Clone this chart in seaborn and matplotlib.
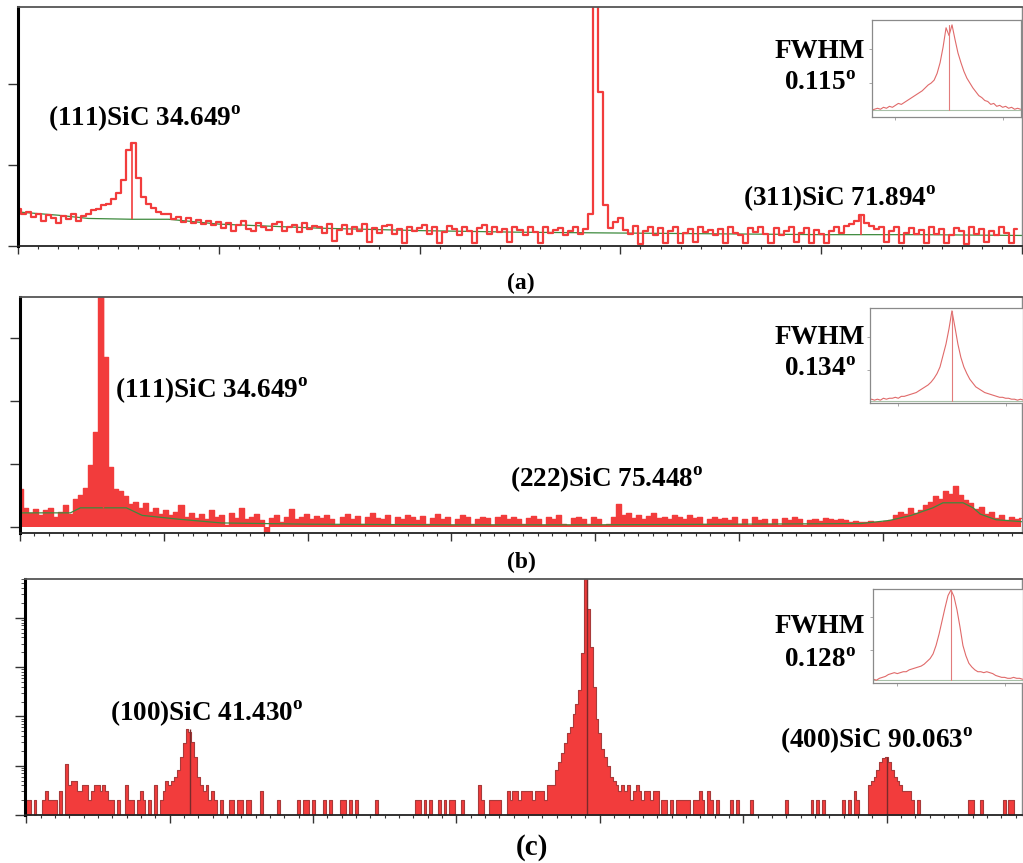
import numpy as np
import matplotlib
matplotlib.use("Agg")
import matplotlib.pyplot as plt
from matplotlib.ticker import MultipleLocator, NullFormatter, FixedLocator
import seaborn as sns

# -------------------------------------------------------------
# DATA
# -------------------------------------------------------------
# panel (a): counts on a 0.25 deg grid starting at 30 deg
a_start, a_step = 30.0, 0.25
a_counts = [
    46, 39, 42, 36, 40, 31, 38, 34, 28, 37,
    33, 40, 31, 37, 40, 44, 46, 50, 52, 58,
    66, 82, 118, 127, 84, 60, 52, 47, 42, 40,
    39, 33, 36, 30, 34, 29, 32, 27, 31, 26,
    30, 22, 28, 19, 26, 31, 21, 18, 29, 24,
    20, 27, 30, 18, 24, 26, 17, 28, 21, 25,
    24, 16, 27, 6, 20, 26, 15, 23, 19, 27,
    5, 22, 16, 25, 26, 15, 21, 4, 24, 19,
    22, 26, 15, 23, 4, 17, 25, 21, 14, 23,
    18, 4, 22, 26, 15, 24, 17, 21, 5, 24,
    20, 14, 23, 17, 4, 24, 16, 20, 22, 13,
    18, 24, 15, 21, 40, 330, 190, 50, 22, 30,
    34, 20, 15, 25, 3, 19, 24, 14, 22, 4,
    18, 23, 4, 16, 21, 5, 24, 17, 20, 14,
    21, 4, 23, 16, 14, 4, 22, 17, 23, 15,
    4, 22, 13, 19, 24, 5, 16, 22, 4, 20,
    15, 4, 18, 23, 16, 25, 27, 31, 38, 29,
    25, 21, 23, 5, 18, 24, 4, 16, 22, 15,
    20, 4, 23, 15, 21, 4, 14, 22, 18, 3,
    23, 15, 21, 5, 19, 14, 24, 16, 4, 21,
]
a_bg_theta = [30, 32, 33.5, 35.7, 37.5, 40, 45, 50, 55, 60, 65, 70, 75, 80]
a_bg_counts = [42, 38, 34, 33, 33, 27, 22, 19, 17, 16, 15, 14, 14, 13]
a_marks = [(35.7, 33, 127), (72.0, 14, 37)]

# panel (b): counts on a 0.35 deg grid starting at 30 deg
b_start, b_step = 30.0, 0.35
b_counts = [
    60, 30, 22, 28, 18, 26, 30, 16, 24, 34,
    20, 44, 50, 62, 98, 150, 380, 270, 95, 60,
    56, 48, 36, 40, 30, 38, 24, 30, 20, 27,
    18, 24, 35, 16, 22, 14, 20, 12, 26, 15,
    18, 3, 22, 14, 30, 12, 16, 20, 10, -8,
    14, 18, 8, 16, 28, 12, 15, 20, 13, 17,
    14, 18, 12, 3, 16, 20, 13, 17, 4, 15,
    22, 14, 12, 18, 3, 16, 13, 19, 15, 11,
    17, 4, 14, 20, 12, 16, 3, 13, 18, 15,
    4, 12, 16, 14, 3, 15, 19, 13, 16, 12,
    4, 14, 17, 12, 3, 15, 13, 18, 4, 3,
    14, 16, 12, 4, 15, 13, 3, 4, 16, 36,
    18, 22, 14, 19, 12, 17, 21, 14, 16, 13,
    19, 15, 12, 18, 14, 16, 4, 13, 15, 12,
    14, 10, 16, 4, 12, 3, 15, 11, 13, 4,
    12, 3, 14, 10, 16, 12, 3, 11, 13, 9,
    14, 12, 10, 13, 11, 8, 9, 7, 8, 9,
    8, 7, 9, 10, 18, 24, 20, 30, 22, 26,
    34, 40, 48, 44, 56, 52, 64, 50, 42, 38,
    28, 32, 20, 24, 14, 18, 10, 16, 12, 14,
]
b_bg_theta = [30, 33.5, 34.2, 37.4, 38.5, 41, 44, 50, 60, 70, 80, 88.5,
              90.5, 92, 93.5, 94.2, 95.6, 96.3, 96.8, 97.9, 99.7]
b_bg_counts = [22, 22, 30, 30, 18, 12, 6, 4, 3, 3, 4, 5,
               10, 18, 30, 38, 38, 30, 20, 11, 8]
b_marks = [(35.77, 30, 400)]

# panel (c): log counts, 0.2 deg bins, 1 count = baseline
c_step = 0.2
c_seg_starts = [30.0, 39.6, 63.6, 88.8]
c_segs = [
    [2, 2, 1, 2, 1, 1, 2, 3, 2, 2, 2, 1, 3, 1, 11, 4, 5, 5, 3, 3,
     4, 4, 2, 3, 4, 4, 3, 4, 3, 2, 2, 1, 2],
    [3, 5, 4, 5, 6, 8, 15, 29, 55, 48, 30, 15, 6, 4, 3, 4, 2, 3, 2],
    [3, 2, 3, 3, 2, 3, 3, 3, 3, 2, 3, 3, 3, 2, 4, 4, 4, 8, 12, 18,
     29, 45, 60, 110, 180, 350, 1900, 60000, 15000, 2600,
     400, 90, 45, 22, 15, 10, 6, 5, 4, 3, 4, 3, 4, 2, 3, 4, 3, 2, 3, 3,
     2, 3, 3],
    [4, 5, 6, 8, 12, 14, 15, 12, 8, 6, 5, 4, 3, 3, 3, 2],
]
c_spike_theta = [37.0, 37.2, 37.4, 37.8, 38.0, 38.2, 38.6, 39.0, 39.4,
                 43.6, 44.2, 44.4, 44.8, 45.0, 45.4, 45.6, 46.4, 47.6,
                 49.0, 49.4, 49.6, 50.0, 50.8, 51.2, 52.0, 52.2, 52.6, 53.0,
                 54.4, 57.2, 57.4, 57.8, 58.2, 58.8, 59.2, 59.6, 59.8, 60.4,
                 61.6, 61.8, 62.4, 62.6, 62.8, 63.0,
                 74.4, 74.6, 75.0, 75.4, 75.6, 75.8, 76.0, 76.2, 76.6, 76.8,
                 77.0, 77.2, 77.6, 77.8, 78.2, 79.2, 79.6, 80.6, 83.0,
                 84.8, 85.2, 85.6, 87.0, 87.4, 87.8, 88.0, 92.2,
                 95.8, 96.0, 96.6, 98.2, 98.6, 98.8]
c_spike_counts = [4, 2, 2, 2, 3, 2, 2, 4, 2,
                  2, 2, 2, 2, 2, 2, 2, 3, 2,
                  2, 2, 2, 2, 2, 2, 2, 2, 2, 2,
                  2, 2, 2, 2, 2, 2, 2, 2, 2, 2,
                  4, 2, 2, 2, 2, 2,
                  2, 2, 2, 2, 2, 2, 2, 2, 2, 2,
                  3, 2, 3, 2, 2, 2, 2, 2, 2,
                  2, 2, 2, 2, 2, 3, 2, 2,
                  2, 2, 2, 2, 2, 2]
c_marks = [(41.4, 1, 55), (69.1, 1, 60000), (90.06, 1, 15)]

# insets: normalised intensity vs offset from peak (deg), 0.02 deg grid
ins_offsets = np.round(np.arange(-28, 25) * 0.02, 2)
ins_a = [8, 9, 7, 8, 9, 8, 10, 9, 11, 10, 12, 14, 13, 15, 17, 19, 21, 23,
         25, 27, 30, 33, 35, 38, 45, 56, 72, 92,
         84, 95, 80, 66, 56, 47, 40, 35, 30, 26, 22, 20, 17, 16, 13, 14,
         11, 12, 10, 11, 9, 10, 8, 9, 8]
ins_b = [3, 4, 3, 4, 3, 5, 4, 5, 5, 6, 5, 7, 7, 8, 9, 10, 11, 13,
         15, 17, 19, 22, 26, 31, 38, 50, 62, 78,
         97, 80, 62, 48, 38, 31, 25, 21, 17, 15, 13, 11, 10, 9, 8, 7,
         6, 6, 5, 5, 4, 4, 3, 4, 3]
ins_c = [3, 3, 4, 3, 5, 6, 7, 9, 10, 11, 10, 11, 12, 12, 14, 15, 16, 17,
         18, 20, 23, 26, 31, 40, 52, 66, 80, 93,
         99, 92, 78, 60, 40, 29, 21, 17, 14, 12, 12, 11, 12, 11, 10, 8,
         7, 6, 6, 5, 5, 6, 5, 5, 4]
fwhm_text = ["0.115", "0.134", "0.128"]

# -------------------------------------------------------------
# STYLE
# -------------------------------------------------------------
sns.set_style("white")
plt.rcParams["font.family"] = ["Liberation Serif", "DejaVu Serif"]
plt.rcParams["mathtext.fontset"] = "custom"
plt.rcParams["mathtext.rm"] = "Liberation Serif"
plt.rcParams["mathtext.bf"] = "Liberation Serif:bold"

RED = "#f23c3c"
DARKRED = "#a83a3a"
GREEN = "#3d8a3d"
W, H = 1023, 863
DEG = r"$^{\mathbf{o}}$"

fig = plt.figure(figsize=(W / 100, H / 100), dpi=100)


def px_axes(x0, y0, x1, y1):
    return fig.add_axes([x0 / W, 1 - y1 / H, (x1 - x0) / W, (y1 - y0) / H])


def style_main(ax):
    ax.xaxis.set_major_locator(MultipleLocator(10))
    ax.xaxis.set_minor_locator(MultipleLocator(1))
    ax.xaxis.set_major_formatter(NullFormatter())
    ax.yaxis.set_major_formatter(NullFormatter())
    ax.yaxis.set_minor_formatter(NullFormatter())
    ax.tick_params(which="both", direction="out", bottom=True, left=True,
                   top=False, right=False, colors="#333333")
    ax.tick_params(axis="x", which="major", length=6, width=1)
    ax.tick_params(axis="x", which="minor", length=2.5, width=0.8)
    ax.tick_params(axis="y", which="major", length=7, width=1)
    ax.tick_params(axis="y", which="minor", length=3, width=0.6)
    ax.spines["left"].set_linewidth(2.2)
    ax.spines["left"].set_color("black")
    ax.spines["bottom"].set_linewidth(1.3)
    ax.spines["bottom"].set_color("#222222")
    ax.spines["top"].set_linewidth(1.3)
    ax.spines["top"].set_color("#555555")
    ax.spines["right"].set_linewidth(1.0)
    ax.spines["right"].set_color("#888888")
    ax.set_xlabel("")
    ax.set_ylabel("")


def style_inset(ax, xlim, base):
    ax.set_xlim(xlim)
    ax.set_ylim(0, 100)
    ax.axhline(base, color="#a8c0a8", lw=0.8, zorder=1)
    ax.xaxis.set_major_locator(FixedLocator([-0.36, 0.36]))
    ax.yaxis.set_major_locator(FixedLocator([35, 70]))
    ax.tick_params(which="both", direction="out", length=2, width=0.6,
                   colors="#999999", bottom=True, left=True,
                   labelbottom=False, labelleft=False)
    for s in ax.spines.values():
        s.set_color("#8a8a8a")
        s.set_linewidth(0.9)
    ax.set_xlabel("")
    ax.set_ylabel("")


def ftext(px, py, s, size, ha="left"):
    fig.text(px / W, 1 - py / H, s, fontsize=size, fontweight="bold",
             ha=ha, va="center", color="black")


# -------------------------------------------------------------
# (a)
# -------------------------------------------------------------
ax_a = px_axes(18, 7, 1022, 246)
a_theta = a_start + a_step * np.arange(len(a_counts))
sns.lineplot(x=a_bg_theta, y=a_bg_counts, color=GREEN, lw=0.9, ax=ax_a,
             estimator=None)
sns.lineplot(x=a_theta, y=a_counts, color=RED, lw=1.6, ax=ax_a,
             drawstyle="steps-mid", estimator=None)
for t, lo, hi in a_marks:
    ax_a.vlines(t, lo, hi, color=RED, lw=1.2)
ax_a.set_xlim(30, 80)
ax_a.set_ylim(0, 295)
ax_a.yaxis.set_major_locator(FixedLocator([0, 100, 200]))
style_main(ax_a)

# -------------------------------------------------------------
# (b)
# -------------------------------------------------------------
ax_b = px_axes(20, 297, 1022, 533)
b_theta = b_start + b_step * np.arange(len(b_counts))
ax_b.fill_between(b_theta, 0, b_counts, step="mid", color=RED, lw=0)
sns.lineplot(x=b_theta, y=b_counts, color=RED, lw=1.0, ax=ax_b,
             drawstyle="steps-mid", estimator=None)
sns.lineplot(x=b_bg_theta, y=b_bg_counts, color=GREEN, lw=0.9, ax=ax_b,
             estimator=None)
for t, lo, hi in b_marks:
    ax_b.vlines(t, lo, hi, color=RED, lw=1.0)
ax_b.set_xlim(30, 99.7)
ax_b.set_ylim(-10, 365)
ax_b.yaxis.set_major_locator(FixedLocator([0, 100, 200, 300]))
style_main(ax_b)

# -------------------------------------------------------------
# (c)
# -------------------------------------------------------------
ax_c = px_axes(25, 579, 1022, 815)
ax_c.set_yscale("log")
c_grid = np.round(30.0 + c_step * np.arange(348), 1)
c_full = np.ones(len(c_grid))
for start, seg in zip(c_seg_starts, c_segs):
    i0 = int(round((start - 30.0) / c_step))
    c_full[i0:i0 + len(seg)] = seg
for t, n in zip(c_spike_theta, c_spike_counts):
    c_full[int(round((t - 30.0) / c_step))] = n
ax_c.fill_between(c_grid, 1, c_full, step="mid", color=RED, lw=0)
sns.lineplot(x=c_grid, y=c_full, color=DARKRED, lw=0.8, ax=ax_c,
             drawstyle="steps-mid", estimator=None)
for t, lo, hi in c_marks:
    ax_c.vlines(t, lo, hi, color="#7a2a2a", lw=1.0)
ax_c.set_xlim(29.9, 99.45)
ax_c.set_ylim(1, 61000)
style_main(ax_c)

# -------------------------------------------------------------
# insets
# -------------------------------------------------------------
insets = [
    (px_axes(872, 20, 1021, 117), ins_a, (-0.517, 0.483), 7),
    (px_axes(870, 308, 1023, 403), ins_b, (-0.55, 0.477), 2),
    (px_axes(873, 589, 1023, 683), ins_c, (-0.523, 0.483), 3),
]
for ax_i, vals, xl, base in insets:
    ax_i.set_facecolor("white")
    sns.lineplot(x=ins_offsets, y=vals, color="#e06a6a", lw=0.8, ax=ax_i,
                 estimator=None)
    ax_i.plot([0, 0], [base, max(vals)], color="#e27c7c", lw=0.8, zorder=3)
    style_inset(ax_i, xl, base)

# -------------------------------------------------------------
# texts
# -------------------------------------------------------------
LAB = 19.5
ftext(48, 118, "(111)SiC 34.649" + DEG, LAB)
ftext(743, 198, "(311)SiC 71.894" + DEG, LAB)
ftext(115, 390, "(111)SiC 34.649" + DEG, LAB)
ftext(510, 479, "(222)SiC 75.448" + DEG, LAB)
ftext(110, 713, "(100)SiC 41.430" + DEG, LAB)
ftext(780, 740, "(400)SiC 90.063" + DEG, LAB)

for (y1, y2), f in zip([(52, 84), (337, 369), (626, 660)], fwhm_text):
    ftext(820, y1, "FWHM", 19.5, ha="center")
    ftext(820, y2, f + DEG, 19.5, ha="center")

ftext(521, 283, "(a)", 17, ha="center")
ftext(521, 562, "(b)", 17, ha="center")
ftext(532, 847, "(c)", 21, ha="center")

fig.savefig("out.png", dpi=100)
